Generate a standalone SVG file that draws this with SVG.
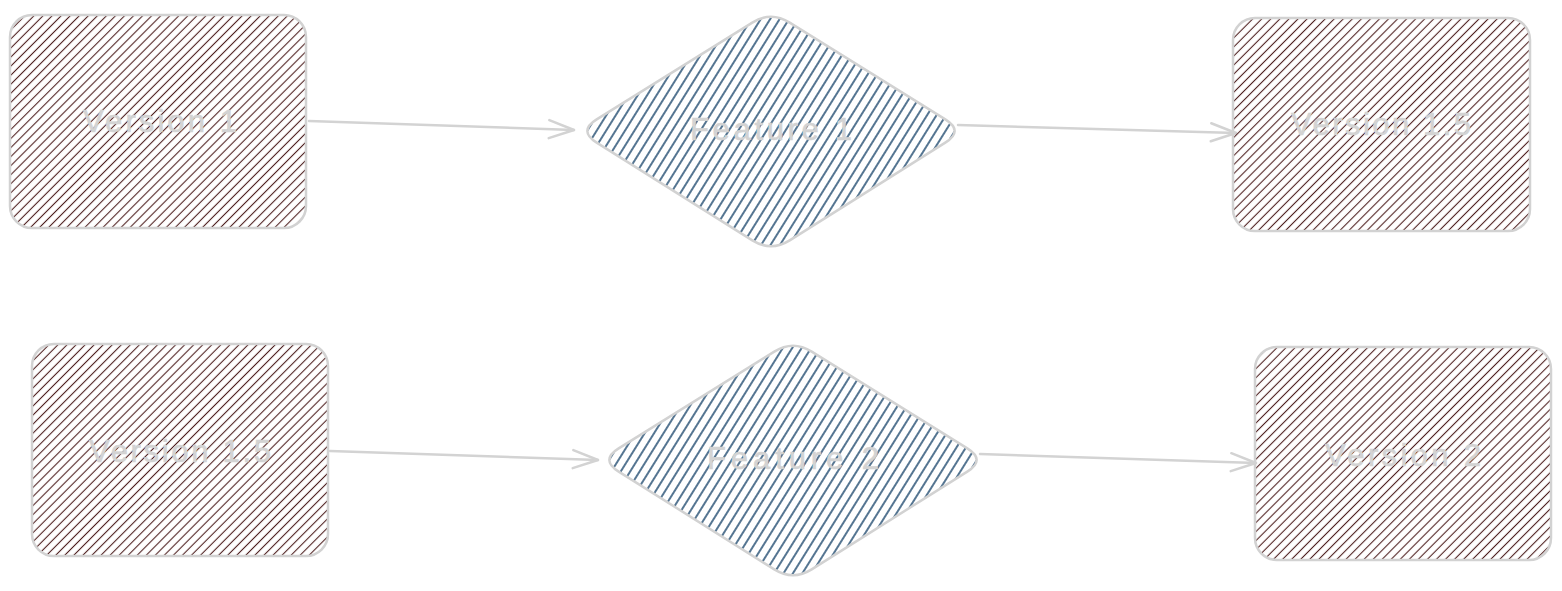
<svg xmlns="http://www.w3.org/2000/svg" width="1562" height="591" viewBox="0 0 1562 591">
  <style>
    .box { stroke: #d2d2d2; stroke-width: 2.5; }
    .version { fill: url(#hatchBrown); }
    .feature { fill: url(#hatchBlue); }
    .label { font-family: "Liberation Sans", "DejaVu Sans", sans-serif; font-size: 31px; fill: #d3d3d3; stroke: #d3d3d3; stroke-width: 0.6; text-anchor: middle; }
    .link { fill: none; stroke: #d3d3d3; stroke-width: 2.5; stroke-linecap: round; marker-end: url(#chevron); }
  </style>
  <defs>
    <!-- diagonal hachure for the version boxes -->
    <pattern id="hatchBrown" patternUnits="userSpaceOnUse" width="6.4" height="10" patternTransform="rotate(45)">
      <line x1="3.2" y1="0" x2="3.2" y2="10" stroke="#4e1f1f" stroke-width="1.1"/>
    </pattern>
    <!-- steeper hachure for the feature diamonds -->
    <pattern id="hatchBlue" patternUnits="userSpaceOnUse" width="8" height="10" patternTransform="rotate(32)">
      <line x1="4" y1="0" x2="4" y2="10" stroke="#0c3a62" stroke-width="1.4"/>
    </pattern>
    <!-- open arrowhead -->
    <marker id="chevron" markerUnits="userSpaceOnUse" markerWidth="30" markerHeight="24" refX="25" refY="9" orient="auto" overflow="visible">
      <path d="M0,0 L25,9 L0,18" fill="none" stroke="#d3d3d3" stroke-width="2.5" stroke-linecap="round" stroke-linejoin="round"/>
    </marker>
    <!-- rounded diamond centred on the origin -->
    <path id="diamondShape" d="M-174.3,-11.6 L-18.7,-108.4 Q0,-120 18.7,-108.4 L174.3,-11.6 Q193,0 174.3,11.6 L18.7,109.4 Q0,121 -18.7,109.4 L-174.3,11.6 Q-193,0 -174.3,-11.6 Z"/>
  </defs>

  <g id="connectors">
    <path class="link" d="M309,121 L574,130"/>
    <path class="link" d="M958,125 L1236,133"/>
    <path class="link" d="M330,451 L598,460"/>
    <path class="link" d="M980,454 L1256,463"/>
  </g>

  <g id="version-1">
    <rect class="box version" x="10" y="15" width="296" height="213" rx="22"/>
    <text class="label" x="160" y="132" textLength="154" lengthAdjust="spacing">Version 1</text>
  </g>

  <g id="feature-1" transform="translate(771,131)">
    <use href="#diamondShape" class="box feature"/>
    <text class="label" x="0" y="9" textLength="162" lengthAdjust="spacing">Feature 1</text>
  </g>

  <g id="version-1-5-top">
    <rect class="box version" x="1233" y="18" width="297" height="213" rx="22"/>
    <text class="label" x="1381" y="135" textLength="180" lengthAdjust="spacing">Version 1.5</text>
  </g>

  <g id="version-1-5-bottom">
    <rect class="box version" x="32" y="344" width="296" height="212" rx="22"/>
    <text class="label" x="180" y="462" textLength="182" lengthAdjust="spacing">Version 1.5</text>
  </g>

  <g id="feature-2" transform="translate(793,460)">
    <use href="#diamondShape" class="box feature"/>
    <text class="label" x="0" y="9" textLength="172" lengthAdjust="spacing">Feature 2</text>
  </g>

  <g id="version-2">
    <rect class="box version" x="1255" y="347" width="296" height="213" rx="22"/>
    <text class="label" x="1403" y="466" textLength="156" lengthAdjust="spacing">Version 2</text>
  </g>
</svg>
